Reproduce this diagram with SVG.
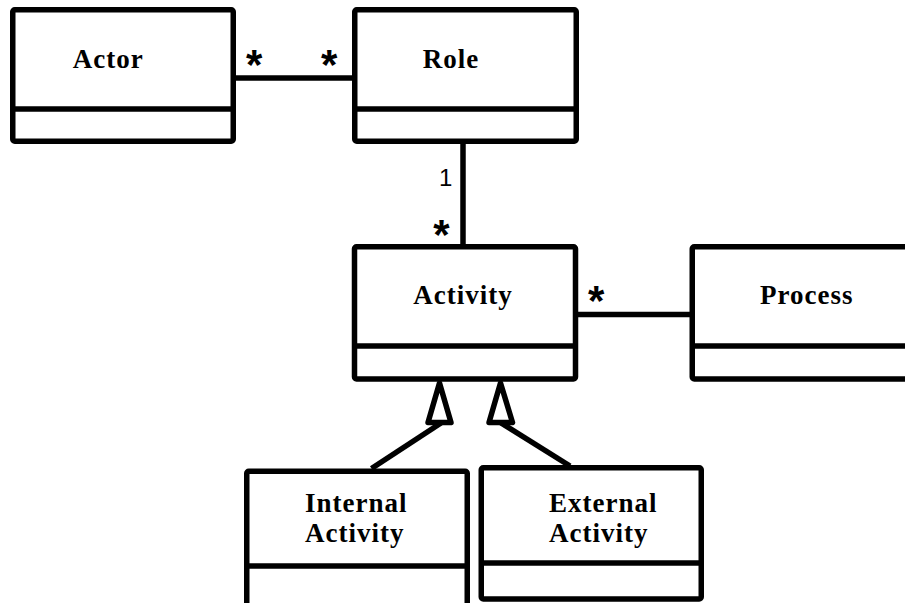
<svg xmlns="http://www.w3.org/2000/svg" width="905" height="603" viewBox="0 0 905 603">
<style>
.box{fill:#fff;stroke:#000;stroke-width:5.5;stroke-linejoin:round}
.div{stroke:#000;stroke-width:5.5;fill:none}
.name{font-family:"Liberation Serif","Times New Roman",serif;font-weight:bold;font-size:27px;letter-spacing:1px;fill:#000}
.edge{stroke:#000;stroke-width:5.5;fill:none}
.gen{stroke:#000;stroke-width:5.5;fill:#fff;stroke-linejoin:round}
.mult{font-family:"Liberation Sans",Arial,sans-serif;font-size:24px;fill:#000}
.star{font-family:"Liberation Sans",Arial,sans-serif;font-weight:bold;font-size:42px;fill:#000;text-anchor:middle}
</style>
<rect width="905" height="603" fill="#fff"/>
<g id="connectors">
<line class="edge" x1="236" y1="78" x2="352" y2="78"/>
<line class="edge" x1="463" y1="144" x2="463" y2="244"/>
<line class="edge" x1="578" y1="314.5" x2="690" y2="314.5"/>
<line class="edge" x1="441" y1="423" x2="371.5" y2="468.5"/>
<line class="edge" x1="501" y1="423" x2="570" y2="466"/>
<polygon class="gen" points="439.5,383 451,422.5 428,422.5"/>
<polygon class="gen" points="500.5,383 512.5,422.5 489,422.5"/>
<text class="star" x="254.2" y="79">*</text>
<text class="star" x="329.2" y="79">*</text>
<text class="mult" x="439" y="186">1</text>
<text class="star" x="441.5" y="249">*</text>
<text class="star" x="596.3" y="315">*</text>
</g>
<g id="actor">
<rect class="box" x="12.75" y="9.75" width="220.5" height="131.5" rx="2"/>
<line class="div" x1="12.75" y1="109" x2="233.25" y2="109"/>
<text class="name" x="72.7" y="67.5">Actor</text>
</g>
<g id="role">
<rect class="box" x="354.75" y="9.75" width="221.5" height="131.5" rx="2"/>
<line class="div" x1="354.75" y1="109" x2="576.25" y2="109"/>
<text class="name" x="422.7" y="67.5">Role</text>
</g>
<g id="activity">
<rect class="box" x="354.5" y="246.75" width="221" height="132.2" rx="2"/>
<line class="div" x1="354.5" y1="346" x2="575.5" y2="346"/>
<text class="name" x="413.3" y="304">Activity</text>
</g>
<g id="process">
<rect class="box" x="692.25" y="246.75" width="300" height="132.2" rx="2"/>
<line class="div" x1="692.25" y1="346" x2="992.25" y2="346"/>
<text class="name" x="760" y="304">Process</text>
</g>
<g id="internal-activity">
<rect class="box" x="246.75" y="471.25" width="220.5" height="140" rx="2"/>
<line class="div" x1="246.75" y1="566" x2="467.25" y2="566"/>
<text class="name" x="305" y="512">Internal</text>
<text class="name" x="305" y="541.5">Activity</text>
</g>
<g id="external-activity">
<rect class="box" x="481.25" y="467.75" width="220" height="131.25" rx="2"/>
<line class="div" x1="481.25" y1="563" x2="701.25" y2="563"/>
<text class="name" x="549" y="511.7">External</text>
<text class="name" x="549" y="541.5">Activity</text>
</g>
</svg>
